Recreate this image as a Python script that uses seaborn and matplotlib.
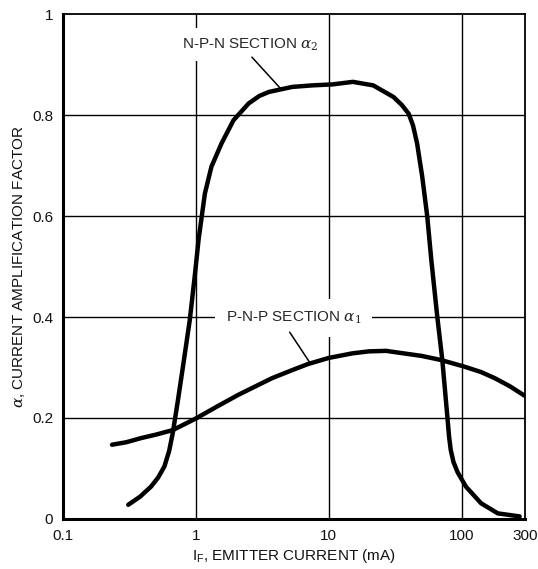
import pandas as pd
import numpy as np
import matplotlib.pyplot as plt
import seaborn as sns

# alpha2 : N-P-N section
npn_current = [0.31, 0.38, 0.46, 0.52, 0.58, 0.63, 0.67, 0.73, 0.80, 0.90, 0.98, 1.05, 1.17, 1.31,
               1.56, 1.92, 2.49, 3.0, 3.54, 5.32, 7.5, 10.7, 15.2, 21.6, 30.7, 35.5, 39.9, 43.0, 46.2,
               50.5, 55.1, 59.1, 65.5, 71.5, 78, 80.4, 82.7, 86.7, 93, 107.6, 140, 187, 273]
npn_alpha = [0.028, 0.044, 0.064, 0.082, 0.104, 0.135, 0.17, 0.232, 0.302, 0.394, 0.48, 0.555,
             0.645, 0.698, 0.744, 0.79, 0.823, 0.838, 0.846, 0.856, 0.859, 0.861, 0.866, 0.859, 0.836,
             0.82, 0.803, 0.78, 0.744, 0.678, 0.599, 0.513, 0.401, 0.315, 0.203, 0.163, 0.137,
             0.113, 0.093, 0.064, 0.031, 0.011, 0.005]

# alpha1 : P-N-P section
pnp_current = [0.234, 0.3, 0.385, 0.5, 0.67, 1.0, 1.45, 2.09, 3.75, 5.32, 7.0, 10, 15, 20, 27,
               36.6, 50, 69.5, 104, 140, 177, 230, 298]
pnp_alpha = [0.147, 0.152, 0.16, 0.167, 0.176, 0.199, 0.223, 0.246, 0.279, 0.295, 0.307, 0.319,
             0.328, 0.332, 0.333, 0.328, 0.323, 0.315, 0.302, 0.291, 0.279, 0.263, 0.244]

x_ticks = [0.1, 1, 10, 100, 300]
x_tick_labels = ['0.1', '1', '10', '100', '300']
y_ticks = [0, 0.2, 0.4, 0.6, 0.8, 1.0]
y_tick_labels = ['0', '0.2', '0.4', '0.6', '0.8', '1']

df = pd.concat([
    pd.DataFrame({'current': npn_current, 'alpha': npn_alpha, 'section': 'npn'}),
    pd.DataFrame({'current': pnp_current, 'alpha': pnp_alpha, 'section': 'pnp'}),
])

sns.set_theme(style='white')
plt.rcParams['font.family'] = ['Liberation Sans', 'DejaVu Sans']
plt.rcParams['mathtext.fontset'] = 'dejavuserif'

fig = plt.figure(figsize=(5.38, 5.69), dpi=100)
ax = fig.add_axes([0.117, 0.088, 0.859, 0.887])

ax.set_xscale('log')
ax.set_xlim(0.1, 300)
ax.set_ylim(0, 1)

# grid
for gx in [1, 10, 100]:
    ax.axvline(gx, color='black', lw=1.0, zorder=1)
for gy in [0.2, 0.4, 0.6, 0.8]:
    ax.axhline(gy, color='black', lw=1.0, zorder=1)

sns.lineplot(data=df, x='current', y='alpha', units='section', estimator=None,
             color='black', lw=3.2, sort=False, ax=ax, zorder=3)
for ln in ax.lines[-2:]:
    ln.set_solid_joinstyle('round')
    ln.set_solid_capstyle('round')

ax.set_xticks(x_ticks)
ax.set_xticklabels(x_tick_labels)
ax.set_yticks(y_ticks)
ax.set_yticklabels(y_tick_labels)
ax.minorticks_off()
ax.tick_params(length=0, labelsize=11, colors='#111111')
ax.tick_params(axis='x', pad=7)
ax.tick_params(axis='y', pad=7)

for s in ['left', 'bottom']:
    ax.spines[s].set_linewidth(2.2)
for s in ['top', 'right']:
    ax.spines[s].set_linewidth(1.3)
for s in ax.spines.values():
    s.set_color('black')

ax.set_xlabel(r'I$_{\mathregular{F}}$, EMITTER CURRENT (mA)', fontsize=11, labelpad=3, color='#111111')
ax.set_ylabel(r'$\alpha$, CURRENT AMPLIFICATION FACTOR', fontsize=11, labelpad=4, color='#111111')

ax.text(2.55, 0.94, r'N-P-N SECTION $\alpha_2$', fontsize=11, ha='center', va='center',
        bbox=dict(facecolor='white', edgecolor='none', pad=6), zorder=2)
ax.plot([2.64, 4.33], [0.915, 0.853], color='black', lw=1.1, zorder=2)

ax.text(5.42, 0.398, r'P-N-P SECTION $\alpha_1$', fontsize=11, ha='center', va='center',
        bbox=dict(facecolor='white', edgecolor='none', pad=8), zorder=2)
ax.plot([5.08, 7.15], [0.37, 0.311], color='black', lw=1.1, zorder=2)

fig.savefig('out.png', dpi=100)
